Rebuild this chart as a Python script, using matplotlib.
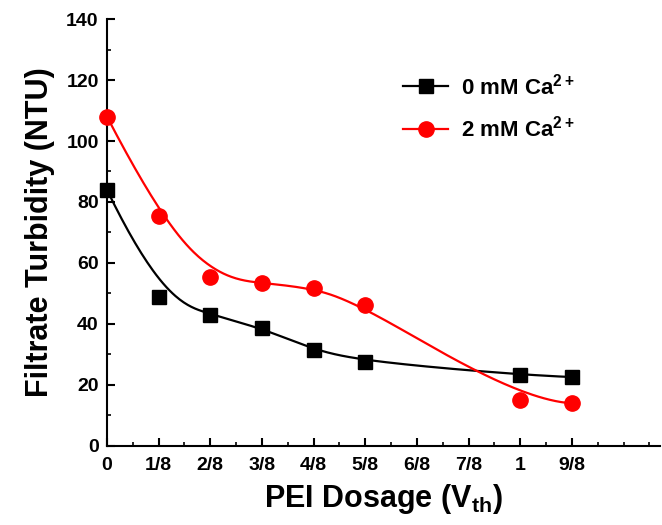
import matplotlib
matplotlib.use("Agg")
import matplotlib.pyplot as plt
import numpy as np
from matplotlib.ticker import MultipleLocator

plt.rcParams['font.family'] = ['Liberation Sans', 'DejaVu Sans']
plt.rcParams['font.weight'] = 'bold'
plt.rcParams['mathtext.fontset'] = 'custom'
plt.rcParams['mathtext.rm'] = 'Liberation Sans:bold'
plt.rcParams['mathtext.bf'] = 'Liberation Sans:bold'
plt.rcParams['mathtext.it'] = 'Liberation Sans:bold'

# Data (x in tick positions, 0 -> "0", 8 -> "1", 9 -> "9/8")
tick_labels = ["0", "1/8", "2/8", "3/8", "4/8", "5/8", "6/8", "7/8", "1", "9/8"]
x_pos = [0, 1, 2, 3, 4, 5, 8, 9]
ca0 = [84, 49, 43, 38.7, 31.5, 27.5, 23.3, 22.6]
ca2 = [108, 75.4, 55.4, 53.4, 51.8, 46.2, 15, 14]


def bspline(xs, ys, n=300):
    # clamped cubic B-spline using the data points as control points
    P = np.column_stack([xs, ys]).astype(float)
    k = 3
    m = len(P)
    inner = np.linspace(0, 1, m - k + 1)
    knots = np.concatenate([[0] * k, inner, [1] * k])
    ts = np.linspace(0, 1 - 1e-9, n)
    out = []
    for t in ts:
        i = np.searchsorted(knots, t, side='right') - 1
        d = [P[j + i - k].copy() for j in range(k + 1)]
        for r in range(1, k + 1):
            for j in range(k, r - 1, -1):
                a = (t - knots[j + i - k]) / (knots[j + 1 + i - r] - knots[j + i - k])
                d[j] = (1 - a) * d[j - 1] + a * d[j]
        out.append(d[k])
    out.append(P[-1])
    out = np.array(out)
    return out[:, 0], out[:, 1]


fig = plt.figure(figsize=(6.62, 5.25), dpi=100)
ax = fig.add_axes([0.1616, 0.1505, 0.835, 0.8133])

bx, by = bspline(x_pos, ca0)
rx, ry = bspline(x_pos, ca2)
ax.plot(bx, by, color='black', lw=1.6, zorder=2)
ax.plot(rx, ry, color='red', lw=1.6, zorder=2)
ax.plot(x_pos, ca0, 's', color='black', ms=10, zorder=3, clip_on=False)
ax.plot(x_pos, ca2, 'o', color='red', ms=11, zorder=3, clip_on=False)

# legend proxies
ax.plot([], [], '-s', color='black', ms=10, lw=1.6, label=r'0 mM Ca$^{2+}$')
ax.plot([], [], '-o', color='red', ms=11, lw=1.6, label=r'2 mM Ca$^{2+}$')
ax.legend(loc='upper left', bbox_to_anchor=(0.5, 0.92), frameon=False,
          fontsize=16, handlelength=2.0, labelspacing=0.75, handletextpad=0.6)

ax.set_xlim(0, 10.7)
ax.set_ylim(0, 140)
ax.set_xticks(range(len(tick_labels)))
ax.set_xticklabels(tick_labels)
ax.xaxis.set_minor_locator(MultipleLocator(0.5))
ax.yaxis.set_major_locator(MultipleLocator(20))
ax.yaxis.set_minor_locator(MultipleLocator(10))

ax.spines['top'].set_visible(False)
ax.spines['right'].set_visible(False)
for s in ['left', 'bottom']:
    ax.spines[s].set_linewidth(1.5)
ax.tick_params(which='major', direction='in', length=6, width=1.5, labelsize=14)
ax.tick_params(axis='x', which='major', pad=8)
ax.tick_params(axis='y', which='major', pad=6)
ax.tick_params(which='minor', direction='in', length=3, width=1.2)
for lab in ax.get_xticklabels() + ax.get_yticklabels():
    lab.set_fontweight('bold')

ax.set_ylabel('Filtrate Turbidity (NTU)', fontsize=22, fontweight='bold', labelpad=8)
ax.set_xlabel(r'PEI Dosage (V$_{\mathrm{th}}$)', fontsize=22, fontweight='bold', labelpad=6)

fig.savefig('out.png', dpi=100)
